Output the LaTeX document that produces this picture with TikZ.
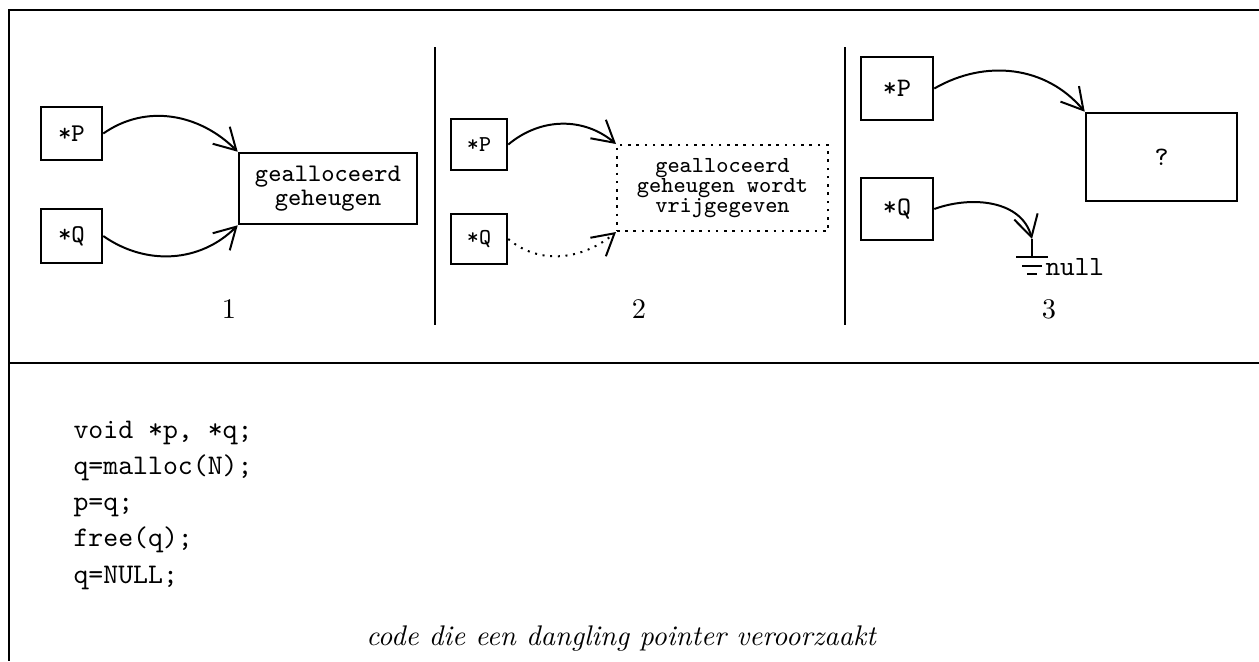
\documentclass[tikz,border=0pt]{standalone}
\usetikzlibrary{arrows.meta}
\newdimen\px \px=0.352pt

\begin{document}
\begin{tikzpicture}[
        x=0.352pt, y=-0.352pt,
        ptr/.style={draw, line width=0.9pt, inner sep=0pt},
        mem/.style={draw, line width=0.9pt, inner sep=0pt, align=center},
        line/.style={-{Straight Barb[length=7.5pt,width=8.5pt]}, line width=0.7pt},
        rule/.style={line width=0.6pt},
        code/.style={anchor=base west, inner sep=0pt, font=\ttfamily}
    ]
    \useasboundingbox (0,0) rectangle (1259,661);

    % Frame
    \draw[rule] (1259,10) -- (9,10) -- (9,661);
    \draw[rule] (9,363) -- (1259,363);
    \draw[rule] (435,47) -- (435,325);
    \draw[rule] (845,47) -- (845,325);

    % 1: both pointers to the block
    \node[ptr, minimum width=61\px, minimum height=53\px, font=\ttfamily\fontsize{9}{8}\selectfont] (pA) at (71.5,133.5) {*P};
    \node[ptr, minimum width=61\px, minimum height=54\px, font=\ttfamily\fontsize{9}{8}\selectfont] (qA) at (71.5,236) {*Q};
    \node[mem, minimum width=178\px, minimum height=71\px, font=\ttfamily\fontsize{8.9}{7.2}\selectfont] (memA) at (328,188.5) {gealloceerd\\geheugen};
    \node[anchor=base] (numA) at (229,318) {1};

    \draw[line] (pA.east) to[out=35,in=135] (memA.north west);
    \draw[line] (qA.east) to[out=-35,in=-135] (memA.south west);

    % 2: block is freed
    \node[ptr, minimum width=56\px, minimum height=51\px, font=\ttfamily\fontsize{8}{7}\selectfont] (pB) at (479,144.5) {*P};
    \node[ptr, minimum width=56\px, minimum height=50\px, font=\ttfamily\fontsize{8}{7}\selectfont] (qB) at (479,239) {*Q};
    \node[mem, dotted, line width=0.7pt, minimum width=211\px, minimum height=86\px, font=\ttfamily\fontsize{8.1}{7.1}\selectfont] (memB) at (722.5,188) {gealloceerd\\geheugen wordt\\vrijgegeven};
    \node[anchor=base] (numB) at (639,318) {2};

    \draw[line] (pB.east) to[out=40,in=140] (memB.north west);
    \draw[line, dotted] (qB.east) to[out=-40,in=-140] (memB.south west);

    % 3: q set to null, p dangles
    \node[ptr, minimum width=72\px, minimum height=63\px, font=\ttfamily\fontsize{9.4}{8}\selectfont] (pC) at (897,88.5) {*P};
    \node[ptr, minimum width=72\px, minimum height=62\px, font=\ttfamily\fontsize{9.4}{8}\selectfont] (qC) at (897,209) {*Q};
    \node[mem, minimum width=151\px, minimum height=88\px, font=\ttfamily\fontsize{9.4}{8}\selectfont] (memC) at (1161.5,157) {?};
    \node[anchor=base] (numC) at (1049,318) {3};
    \coordinate (gnd) at (1032,239);
    \node[anchor=west, inner sep=0pt, font=\ttfamily\fontsize{9.8}{8}\selectfont] (nullC) at (1045,267) {null};

    \draw[line] (pC.east) to[out=30,in=130] (memC.north west);
    \draw[line] (qC.east) to[out=20,in=105] (gnd);
    \draw[line width=0.7pt] (gnd) -- ++(0,18)
        ++(-16,0) -- ++(32,0)
        ++(-26,9) -- ++(20,0)
        ++(-15,8) -- ++(10,0);

    % Code
    \node[code] (line1) at (73,438) {void *p, *q;};
    \node[code] (line2) at (73,474) {q=malloc(N);};
    \node[code] (line3) at (73,510.5) {p=q;};
    \node[code] (line4) at (73,546.5) {free(q);};
    \node[code] (line5) at (73,583) {q=NULL;};
    \node[anchor=base, inner sep=0pt, font=\itshape] (caption) at (621,645) {code die een dangling pointer veroorzaakt};

\end{tikzpicture}
\end{document}
